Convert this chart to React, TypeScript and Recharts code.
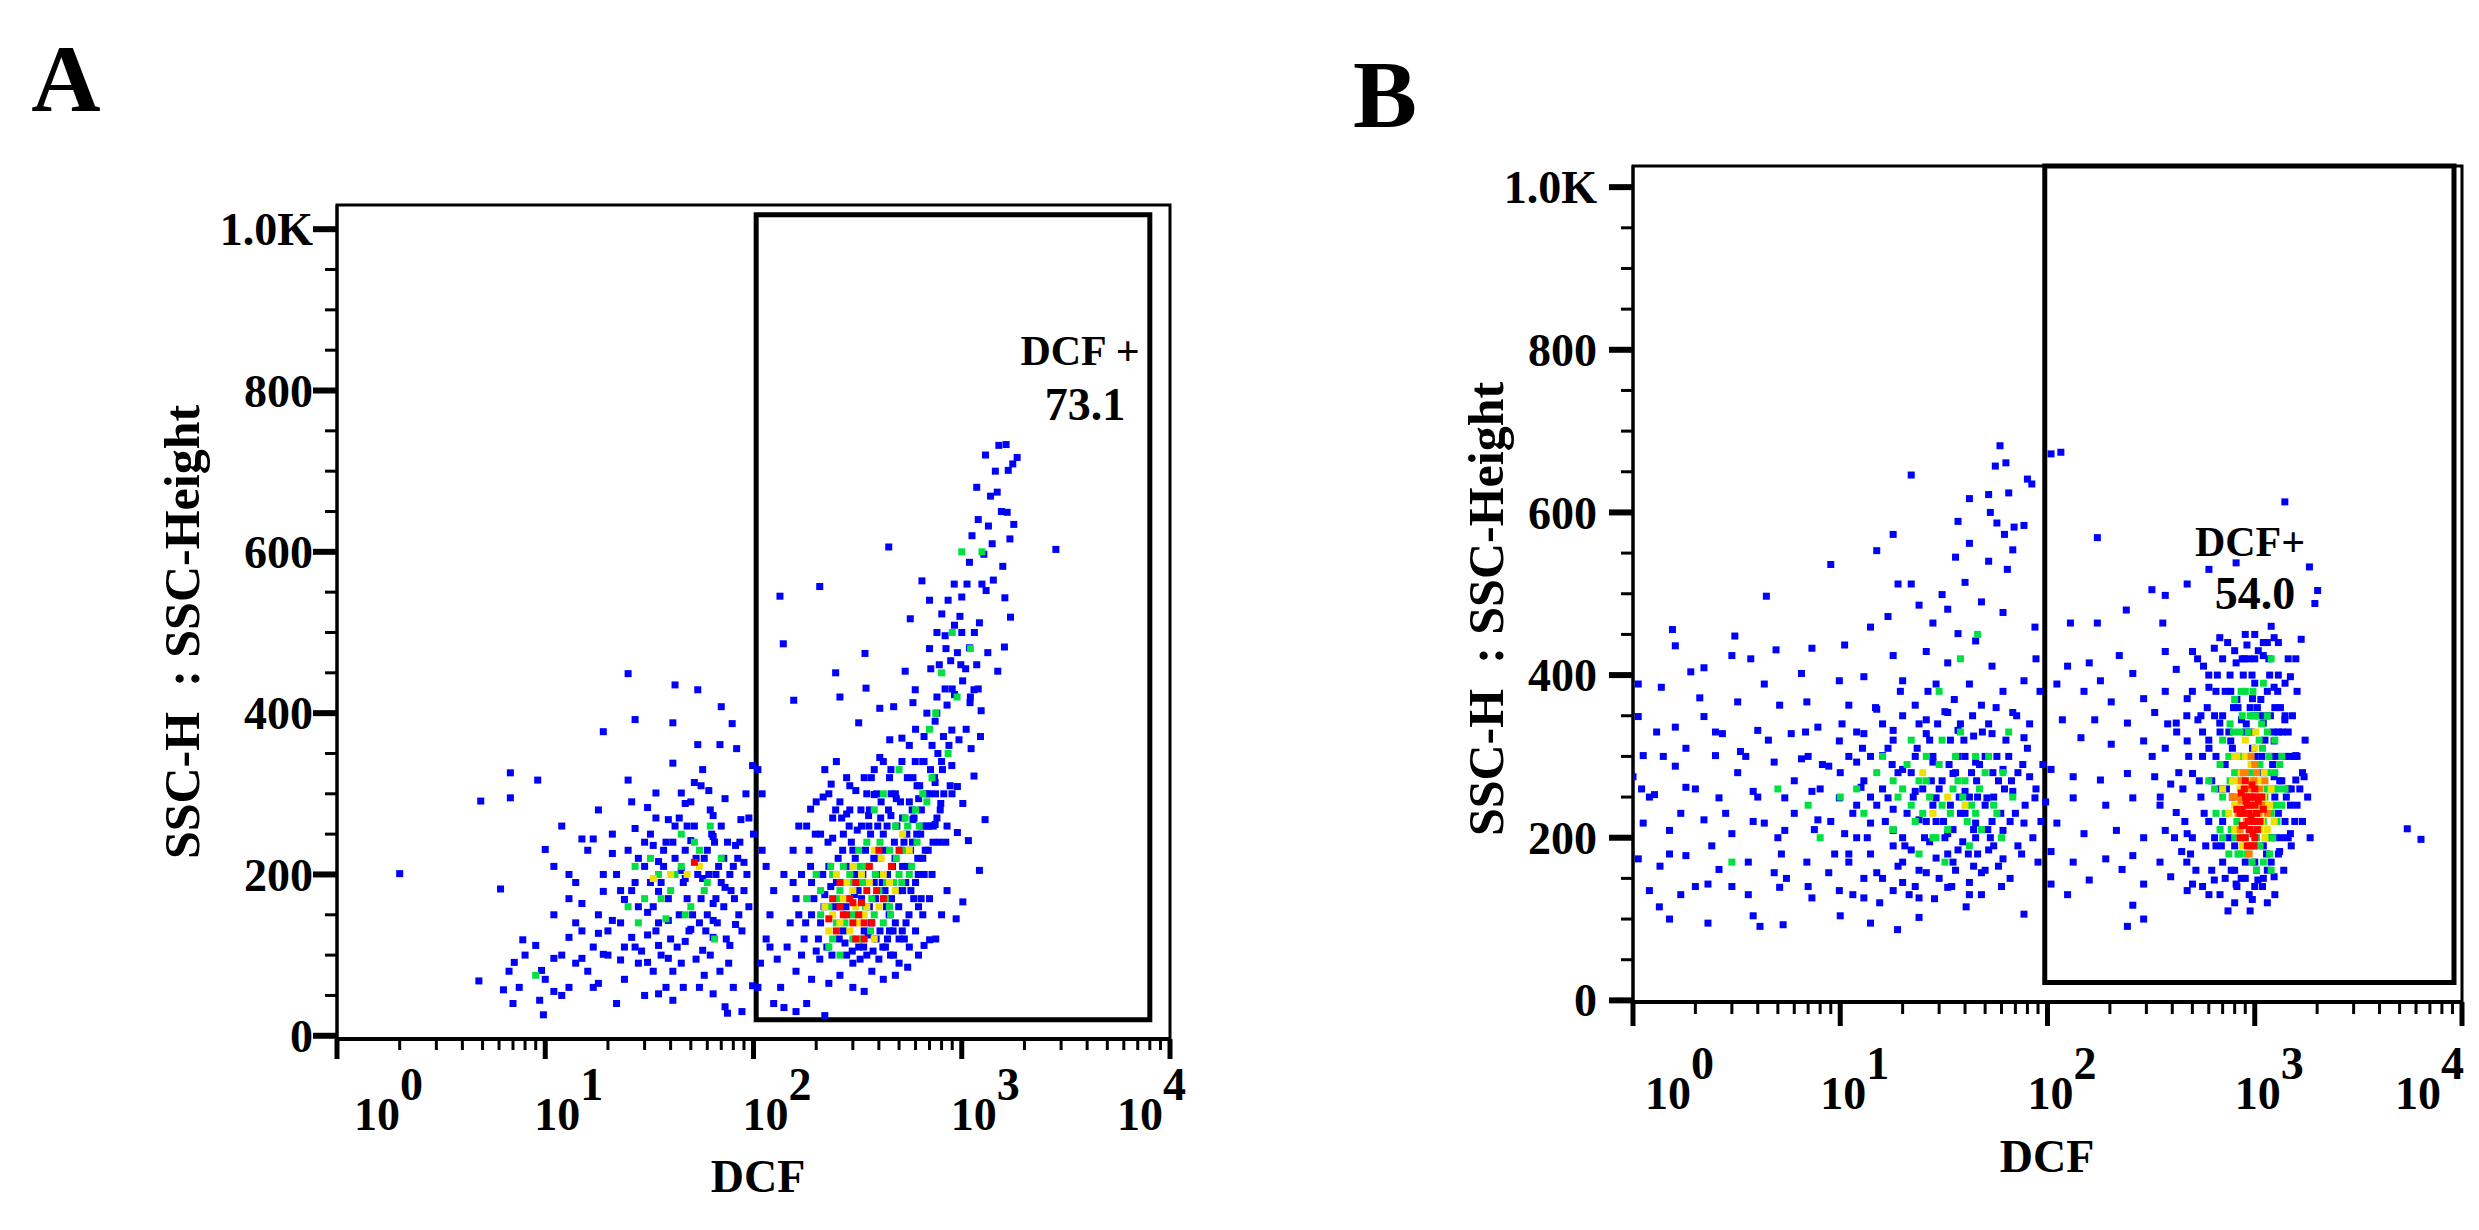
import { ScatterChart, Scatter, XAxis, YAxis, ReferenceArea } from 'recharts';

const FONT = '"Liberation Serif", "Times New Roman", serif';

const xTicks = [
  1, 2, 3, 4, 5, 6, 7, 8, 9,
  10, 20, 30, 40, 50, 60, 70, 80, 90,
  100, 200, 300, 400, 500, 600, 700, 800, 900,
  1000, 2000, 3000, 4000, 5000, 6000, 7000, 8000, 9000,
  10000,
];
const xMajor = [1, 10, 100, 1000, 10000];
const xExponents = ['0', '1', '2', '3', '4'];
const yTicks = [0, 50, 100, 150, 200, 250, 300, 350, 400, 450, 500, 550, 600, 650, 700, 750, 800, 850, 900, 950, 1000];
const yLabels: Record<number, string> = { 0: '0', 200: '200', 400: '400', 600: '600', 800: '800', 1000: '1.0K' };

// ---- panel A: [DCF, SSC-H] ----
const aBlue = [
  [1507, 732], [1633, 733], [1845, 717], [1758, 709], [1672, 701], [1480, 674], [1375, 669], [1652, 649], [1343, 632], [1778, 634],
  [1703, 616], [446, 606], [2831, 603], [1089, 587], [1277, 597], [1574, 582], [644, 564], [1418, 565], [1309, 552], [1000, 544],
  [1611, 543], [566, 517], [802, 523], [923, 509], [1216, 512], [1714, 519], [832, 496], [953, 475], [1089, 481], [1334, 475],
  [1603, 482], [343, 474], [885, 465], [1044, 455], [710, 455], [535, 452], [1489, 452], [347, 431], [598, 429], [832, 430],
  [923, 423], [1145, 429], [1096, 413], [1239, 403], [759, 400], [896, 379], [745, 390], [583, 413], [471, 408], [248, 450],
  [156, 416], [134, 545], [208, 557], [139, 486], [320, 388], [260, 420], [404, 406],
  [700, 540], [760, 500], [1150, 500], [980, 520], [1250, 560], [900, 430], [1010, 440], [1180, 460], [700, 480], [860, 540],
  [1400, 610], [1550, 650], [1200, 640], [1450, 700],
  [451, 367], [516, 369], [659, 371], [817, 371], [970, 367], [1230, 371], [1109, 356], [404, 345], [516, 340], [659, 340],
  [896, 335], [1145, 322], [368, 320], [457, 330], [583, 320], [745, 314], [953, 309], [310, 304], [380, 299], [485, 294],
  [621, 294], [793, 288], [1012, 288], [1294, 268], [236, 312], [216, 296], [188, 281], [280, 275], [357, 273], [457, 273],
  [583, 268], [745, 262], [953, 252], [1076, 242], [1216, 205], [1012, 166], [940, 145], [701, 119], [659, 112],
  [170, 200], [185, 230], [160, 170], [150, 140], [175, 120], [200, 105], [210, 140], [220, 175], [230, 210], [240, 245],
  [250, 190], [260, 160], [270, 130], [280, 100], [300, 90], [320, 110], [340, 130], [360, 160], [380, 190], [400, 220],
  [420, 250], [440, 200], [460, 170], [480, 140], [500, 120], [520, 180], [550, 210], [580, 240], [600, 190], [620, 160],
  [650, 220], [300, 230], [330, 260], [360, 280], [390, 300], [270, 250], [240, 270], [210, 250], [190, 190], [165, 150],
  [145, 110], [130, 95], [120, 150], [140, 200], [155, 230], [180, 260], [200, 290], [230, 300], [260, 290], [290, 280],
  [310, 200], [330, 170], [350, 100], [370, 80], [400, 95], [430, 110], [450, 130], [470, 100], [500, 90], [540, 140],
  [560, 110], [600, 130], [650, 150], [700, 170], [720, 200], [680, 260], [700, 300], [640, 280], [610, 310], [560, 290],
  [520, 270], [480, 300], [450, 320], [420, 340], [380, 330], [340, 320], [280, 320], [250, 340], [220, 330], [115, 120],
  [125, 180], [110, 230], [108, 90], [135, 60], [160, 80], [190, 70], [230, 65], [260, 75], [300, 60], [340, 55],
  [420, 70], [480, 75], [550, 85], [620, 100], [750, 120], [800, 150], [850, 180], [780, 240], [760, 270], [820, 300],
  [120, 110], [125, 40], [140, 35], [160, 30], [105, 60], [95, 270], [100, 250], [105, 330], [110, 300], [90, 215],
  [115, 210], [180, 40], [220, 25], [88, 30], [75, 28],
  [190, 150], [205, 120], [215, 200], [225, 110], [245, 160], [255, 220], [265, 190], [275, 115], [285, 210], [295, 240],
  [305, 175], [315, 255], [325, 95], [335, 200], [345, 230], [355, 125], [365, 250], [375, 105], [385, 170], [395, 260],
  [405, 130], [415, 190], [425, 230], [435, 160], [445, 280], [455, 100], [465, 210], [475, 240], [490, 180], [510, 230],
  [530, 120], [545, 250], [570, 180], [590, 270], [615, 220], [635, 250], [660, 200], [690, 230], [730, 260], [740, 320],
  [800, 340], [850, 260], [880, 310], [170, 100], [195, 170], [235, 185], [265, 270], [290, 310], [350, 300], [410, 290],
  [440, 120], [520, 210],
  [155, 190], [165, 260], [178, 140], [188, 210], [198, 250], [208, 95], [218, 160], [228, 240], [238, 100], [248, 280],
  [258, 120], [268, 230], [278, 160], [288, 260], [298, 105], [308, 220], [318, 180], [328, 280], [338, 110], [348, 190],
  [358, 260], [368, 140], [378, 220], [388, 120], [398, 200], [408, 270], [418, 110], [428, 180], [438, 260], [448, 150],
  [458, 300], [468, 130], [478, 220], [488, 260], [498, 160], [508, 290], [518, 130], [528, 240], [538, 190], [548, 320],
  [558, 150], [568, 230], [578, 280], [588, 170], [598, 340], [608, 250], [618, 200], [628, 310], [638, 170], [648, 260],
  [668, 230], [678, 300], [698, 260], [708, 330], [728, 240], [748, 300], [768, 350], [788, 280], [808, 330], [838, 240],
  [868, 360], [898, 300], [720, 360], [650, 340], [560, 360], [600, 380], [680, 400], [760, 420], [850, 410], [780, 460],
  [840, 480], [920, 560], [1000, 500], [1060, 560], [1120, 620], [1180, 680], [1300, 720], [1100, 420], [1050, 380], [1200, 430],
  [990, 460],
  // negative population
  [25, 449], [42, 435], [54, 429], [27, 392], [41, 388], [70, 408], [79, 387], [19, 377], [54, 361], [69, 361],
  [83, 356], [41, 338], [57, 330], [25, 317], [52, 314], [99, 335], [6.8, 326], [9.2, 317], [4.9, 291], [6.8, 295],
  [34, 301], [45, 301], [61, 304], [73, 294], [87, 268], [31, 283], [47, 288], [64, 273], [39, 268], [27, 257],
  [50, 242], [64, 247], [82, 236], [33, 236], [15, 244], [17, 244], [10, 231], [13, 200], [21, 226], [35, 216],
  [45, 205], [57, 195], [73, 184], [93, 200], [27, 190], [35, 179], [47, 195], [64, 164], [24, 169], [19, 179],
  [15, 164], [31, 153], [39, 143], [50, 132], [64, 143], [82, 138], [21, 143], [18, 127], [26, 122], [35, 112],
  [47, 117], [64, 122], [13, 122], [9, 112], [7.1, 91], [9.6, 81], [11, 96], [15, 96], [19, 101], [23, 94],
  [31, 91], [39, 96], [57, 106], [77, 112], [7.8, 119], [4.8, 68], [6.3, 57], [7.5, 60], [11, 55], [13, 60],
  [18, 65], [9.4, 44], [35, 52], [46, 60], [64, 52], [80, 60], [41, 44], [9.8, 26], [73, 36], [2.0, 201],
  [6.1, 182], [99, 62], [6.7, 80],
  [28, 220], [32, 250], [37, 230], [42, 260], [47, 230], [52, 260], [58, 220], [63, 250], [68, 210], [75, 240],
  [34, 130], [40, 120], [44, 150], [49, 130], [55, 140], [60, 150], [66, 170], [72, 160], [78, 180], [85, 150],
  [90, 180], [22, 200], [18, 150], [15, 130], [13, 170], [12, 100], [16, 80], [20, 100], [24, 70], [29, 105],
  [30, 210], [36, 190], [42, 220], [48, 170], [54, 200], [60, 230], [66, 200], [72, 220], [26, 180], [33, 160],
  [38, 240], [44, 270], [50, 290], [56, 310], [62, 280], [70, 260], [80, 210], [86, 240], [92, 300], [20, 130],
  [24, 110], [28, 90], [17, 110], [14, 140], [11, 150], [31, 125], [36, 100], [41, 80], [53, 95], [58, 75],
  [10, 70], [8, 100], [12, 50], [7, 40],
  [11, 210], [12, 260], [14, 190], [16, 230], [18, 280], [19, 200], [21, 250], [23, 180], [25, 230], [26, 290],
  [28, 160], [30, 240], [32, 190], [34, 270], [35, 140], [37, 210], [39, 170], [41, 240], [43, 110], [46, 190],
  [48, 260], [51, 150], [53, 220], [56, 170], [59, 130], [61, 200], [65, 240], [67, 140], [70, 190], [74, 120],
  [77, 200], [81, 170], [84, 220], [88, 130], [95, 160], [23, 140], [27, 110], [33, 80], [38, 60], [45, 90],
  [55, 60], [62, 100], [69, 80], [76, 90], [17, 60], [14, 90], [22, 40], [30, 50],
];
const aGreen = [
  [200, 200], [230, 160], [250, 140], [280, 170], [300, 150], [320, 190], [350, 210], [380, 150], [400, 180], [420, 140],
  [450, 230], [480, 260], [500, 200], [330, 120], [270, 210], [260, 100], [350, 240], [300, 120], [550, 260], [420, 300],
  [380, 280], [240, 120], [210, 150], [600, 280], [500, 330], [700, 380], [450, 160],
  [260, 180], [290, 200], [340, 190], [370, 170], [430, 170], [470, 190], [520, 230], [560, 200], [610, 240], [650, 300],
  [750, 400], [800, 450], [900, 500], [1000, 600], [320, 230], [240, 200],
  [210, 180], [235, 210], [255, 170], [275, 140], [295, 190], [325, 210], [345, 160], [365, 130], [385, 200], [405, 240],
  [435, 190], [455, 150], [485, 220], [515, 190], [535, 270], [575, 210], [625, 260], [680, 290], [720, 320], [860, 350],
  [950, 420], [1100, 480], [1250, 600], [230, 110], [180, 170],
  [35, 200], [45, 210], [40, 180], [55, 230], [30, 170], [50, 160], [60, 190], [45, 250], [25, 160], [38, 145],
  [65, 120], [9, 75], [28, 140], [32, 220], [42, 200], [52, 240], [36, 170], [58, 180], [47, 150], [27, 210],
  [62, 260], [70, 220],
];
const aYellow = [
  [260, 140], [290, 130], [310, 160], [340, 150], [360, 190], [400, 160], [280, 190], [230, 130], [420, 200], [380, 230],
  [320, 140], [270, 170], [300, 180], [350, 160], [240, 150], [220, 160], [250, 200], [330, 200], [410, 220], [450, 190],
  [480, 180], [380, 120], [300, 210], [520, 250], [560, 230], [48, 200], [33, 195], [40, 200], [55, 210],
];
const aRed = [
  [270, 150], [300, 140], [330, 165], [290, 170], [350, 180], [250, 130], [310, 120], [400, 230], [370, 140], [52, 215],
  [280, 150], [320, 150], [260, 160], [300, 165], [340, 140], [230, 145], [360, 210], [420, 170], [460, 210], [260, 190],
  [390, 180], [500, 230], [340, 120], [240, 170], [310, 190],
];

// ---- panel B: [DCF, SSC-H] ----
const bBlue = [
  [59, 682], [56, 657], [63, 661], [22, 646], [80, 641], [84, 635], [42, 617], [52, 622], [65, 624], [18, 573],
  [53, 600], [57, 587], [69, 582], [77, 584], [62, 573], [37, 589], [15, 553], [42, 562], [68, 554], [9.0, 536],
  [36, 545], [52, 540], [64, 530], [19, 512], [22, 512], [40, 514], [31, 499], [24, 486], [33, 481], [48, 490],
  [61, 477], [4.4, 497], [14, 459], [17, 472], [28, 464], [37, 451], [45, 442], [87, 459], [1.55, 456], [3.1, 448],
  [4.9, 431], [1.6, 436], [7.3, 433], [10.5, 437], [18, 424], [26, 429], [33, 415], [54, 411], [1.9, 404], [2.2, 409],
  [3.0, 424], [3.7, 420], [1.06, 389], [1.37, 385], [4.3, 389], [6.5, 402], [9.9, 393], [13, 398], [20, 393], [29, 389],
  [42, 389], [61, 380], [77, 393], [2.1, 372], [3.2, 367], [5.1, 363], [6.9, 367], [11, 363], [15, 358], [23, 363],
  [33, 354], [48, 363], [68, 354], [1.06, 349], [1.6, 336], [2.2, 349], [2.7, 328], [4.0, 332], [5.8, 328], [7.8, 336],
  [9.9, 319], [13, 328], [18, 332], [26, 328], [37, 332], [54, 328], [77, 323], [1.12, 301], [1.6, 288], [2.5, 301],
  [3.3, 306], [4.8, 293], [6.5, 297], [8.8, 288], [12, 293], [16, 301], [20, 284], [28, 293], [35, 279], [45, 293],
  [61, 284], [82, 275], [1.0, 275], [1.27, 253], [1.8, 262], [2.6, 249], [3.8, 257], [5.4, 249], [7.3, 257], [9.9, 249],
  [12.6, 262], [17, 249], [23, 257], [29, 249], [40, 257], [51, 249], [68, 257], [87, 249], [1.12, 218], [1.5, 209],
  [2.2, 222], [3.0, 205], [4.3, 218], [5.4, 209], [7.8, 222], [10.5, 205], [14, 218], [18, 209], [24, 222], [33, 205],
  [45, 218], [61, 209], [77, 218], [1.06, 174], [1.35, 165], [1.8, 178], [2.6, 161], [3.6, 170], [4.8, 157], [6.9, 170],
  [8.8, 157], [11, 170], [15, 157], [20, 170], [26, 157], [35, 170], [48, 157], [61, 174], [1.2, 135], [1.7, 130],
  [2.3, 143], [3.6, 130], [5.1, 139], [7.3, 126], [9.9, 135], [13, 126], [18, 135], [24, 126], [33, 139], [42, 130],
  [1.34, 115], [2.3, 95], [3.8, 104], [5.3, 93], [10, 104], [14, 95], [18.9, 87], [24, 102], [77, 106], [1.5, 100],
  [4.1, 91],
  [11, 300], [13, 270], [15, 240], [17, 310], [19, 280], [21, 230], [23, 300], [25, 260], [27, 320], [29, 220],
  [31, 270], [34, 240], [37, 300], [40, 230], [43, 280], [46, 250], [50, 300], [54, 220], [58, 270], [12, 200],
  [14, 180], [16, 150], [18, 190], [20, 145], [22, 185], [24, 160], [27, 195], [30, 150], [33, 180], [36, 160],
  [39, 195], [42, 145], [46, 180], [50, 160], [55, 190], [60, 140], [12, 330], [16, 340], [20, 350], [26, 345],
  [32, 355], [38, 340], [44, 325], [52, 340], [14, 250], [18, 235], [28, 240], [35, 210], [45, 200], [55, 250],
  [65, 300], [70, 230], [75, 180], [80, 310],
  [10, 280], [12, 240], [14, 300], [16, 260], [18, 320], [20, 200], [22, 280], [24, 340], [26, 220], [28, 300],
  [30, 260], [32, 200], [34, 320], [36, 280], [38, 230], [40, 300], [42, 250], [44, 210], [47, 290], [50, 240],
  [53, 200], [57, 300], [62, 260], [66, 220], [72, 280], [78, 240], [85, 200], [9, 220], [8, 260], [7, 300],
  [6, 230], [5, 200], [4, 250], [3.5, 300], [2.8, 230], [2.4, 190], [2, 260], [1.7, 230], [1.4, 300], [1.2, 250],
  [11, 180], [13, 150], [19, 165], [23, 140], [29, 175], [37, 185], [44, 165], [52, 185], [58, 165], [66, 150],
  [72, 190], [90, 170], [95, 290], [92, 380], [88, 420],
  [3.2, 280], [3.8, 220], [4.5, 320], [5.2, 180], [6, 270], [6.8, 330], [7.5, 210], [8.2, 290], [9.4, 180], [10.2, 340],
  [11.5, 230], [12.8, 310], [13.5, 200], [14.8, 360], [16.5, 220], [17.8, 290], [19.5, 380], [20.5, 190], [22.5, 250], [23.5, 310],
  [25.5, 200], [26.5, 380], [27.5, 270], [29.5, 340], [31.5, 220], [33.5, 290], [35.5, 370], [37.5, 250], [39.5, 320], [41.5, 180],
  [43.5, 350], [45.5, 270], [48.5, 330], [51.5, 210], [54.5, 280], [56.5, 360], [59.5, 230], [63, 320], [67, 270], [71, 350],
  [76, 290], [82, 340], [88, 260], [93, 220], [11.5, 130], [15.5, 120], [21.5, 130], [28.5, 125], [34.5, 140], [40.5, 115],
  [48, 130], [5.5, 150], [7, 140], [3, 140], [2.5, 330], [1.8, 310], [1.3, 330], [1.1, 260], [1.5, 180], [2, 140],
  // positive population
  [104, 672], [116, 674], [174, 569], [319, 505], [370, 498], [472, 512], [601, 530], [813, 538], [1397, 613], [1836, 533],
  [2011, 504], [1950, 488], [240, 480], [129, 464], [174, 464], [360, 464], [678, 446], [1675, 444], [1240, 446], [917, 437],
  [638, 433], [501, 429], [370, 429], [222, 424], [159, 415], [125, 411], [180, 393], [258, 402], [418, 407], [566, 411],
  [813, 415], [1099, 424], [1578, 420], [111, 389], [150, 380], [203, 367], [291, 371], [370, 380], [472, 371], [601, 385],
  [766, 380], [975, 371], [1240, 385], [1486, 398], [118, 345], [169, 345], [243, 341], [329, 354], [418, 341], [532, 345],
  [678, 341], [863, 345], [1099, 341], [1397, 345], [145, 323], [203, 315], [291, 319], [370, 310], [472, 319], [601, 310],
  [766, 319], [975, 310], [1240, 319], [1578, 301], [104, 284], [133, 275], [180, 271], [243, 279], [329, 275], [393, 266],
  [501, 279], [1240, 275], [1578, 271], [1730, 275], [98, 244], [133, 249], [191, 240], [258, 249], [349, 240], [418, 231],
  [1486, 240], [5445, 211], [6340, 198], [111, 218], [150, 205], [215, 209], [291, 200], [370, 209], [472, 205], [1486, 205],
  [104, 183], [133, 170], [191, 174], [258, 178], [349, 170], [444, 183], [1318, 183], [159, 148], [229, 161], [291, 143],
  [393, 152], [501, 143], [638, 148], [813, 143], [1035, 148], [1240, 152], [258, 117], [291, 100], [243, 91], [743, 110],
  [973, 124], [601, 130], [472, 135], [125, 130], [104, 143],
  [500, 380], [550, 350], [600, 320], [650, 300], [700, 350], [750, 330], [800, 300], [850, 280], [900, 330], [950, 360],
  [1000, 300], [1100, 280], [1200, 300], [1300, 330], [1400, 300], [1500, 260], [550, 250], [600, 220], [650, 190], [700, 170],
  [750, 200], [800, 160], [900, 150], [1000, 170], [1100, 190], [1200, 200], [1300, 230], [1400, 220], [1500, 190], [1600, 240],
  [500, 200], [450, 260], [480, 300], [520, 160], [560, 300], [620, 270], [680, 260], [720, 290], [780, 250], [820, 370],
  [880, 400], [940, 420], [1000, 390], [1050, 350], [1150, 380], [1250, 360], [1350, 270], [1450, 330], [1700, 280], [420, 330],
  [460, 220], [600, 400], [700, 420], [800, 430], [900, 450], [1150, 440], [1250, 250], [1350, 200], [1600, 300], [1800, 250],
  [560, 330], [640, 350], [720, 380], [780, 310], [830, 360], [870, 420], [960, 330], [1030, 360], [1080, 300], [1130, 350],
  [1180, 400], [1230, 330], [1280, 300], [1330, 360], [1400, 350], [1450, 260], [1550, 300], [1300, 180], [1200, 170], [1100, 150],
  [1000, 140], [900, 170], [800, 190], [700, 220], [640, 200], [580, 190], [720, 150], [820, 140], [1150, 160], [1450, 200],
  [650, 380], [760, 400], [1000, 420], [1100, 440], [1300, 400], [1400, 390],
  [320, 300], [350, 250], [380, 340], [410, 200], [430, 280], [470, 350], [490, 180], [530, 420], [540, 270], [570, 230],
  [590, 360], [620, 160], [660, 400], [680, 330], [690, 190], [730, 260], [740, 440], [770, 160], [790, 360], [840, 300],
  [860, 150], [890, 420], [910, 340], [940, 130], [970, 400], [990, 350], [1020, 160], [1040, 430], [1070, 370], [1090, 140],
  [1120, 320], [1140, 180], [1170, 420], [1190, 350], [1220, 290], [1260, 200], [1290, 380], [1320, 270], [1360, 330], [1420, 250],
  [1480, 300], [1520, 350], [1560, 220], [1650, 260], [1750, 320], [1850, 200], [1380, 160], [1250, 130], [1150, 120], [950, 110],
  [800, 120], [680, 130], [560, 140], [470, 170], [1600, 380], [1700, 220], [1450, 420], [1300, 440], [1200, 460], [1000, 450],
];
const bGreen = [
  [20, 260], [25, 230], [30, 290], [35, 260], [28, 200], [40, 270], [22, 320], [45, 230], [32, 170], [18, 210],
  [50, 280], [38, 330], [27, 250], [15, 280], [24, 180], [42, 190], [55, 240], [5, 260], [8, 200], [3, 170],
  [30, 380], [38, 420], [46, 450], [21, 290], [26, 270], [31, 240], [36, 300], [41, 220], [47, 260], [23, 220],
  [33, 210], [19, 250], [60, 200], [12, 260], [65, 330],
  [13, 230], [16, 300], [24, 270], [29, 200], [34, 230], [37, 270], [43, 240], [48, 210], [52, 300], [57, 230],
  [61, 280], [68, 250], [18, 270], [22, 240], [26, 300], [31, 320], [39, 250], [45, 300], [10, 250], [7, 240],
  [700, 250], [750, 300], [800, 280], [850, 330], [900, 250], [950, 300], [1000, 270], [1050, 240], [1100, 220], [1150, 260],
  [1200, 230], [1250, 280], [700, 200], [750, 180], [800, 200], [850, 180], [900, 200], [1000, 190], [1100, 170], [1200, 160],
  [650, 230], [600, 270], [1300, 260], [950, 350], [1050, 320], [900, 380], [800, 370], [700, 320], [1150, 330], [1350, 300],
  [1100, 390], [1200, 420], [760, 270], [860, 300], [960, 280], [1060, 290], [1160, 280], [1260, 240], [820, 220], [920, 180],
  [1020, 200], [1120, 250], [1220, 200], [1080, 340], [980, 380],
  [640, 260], [680, 290], [720, 230], [770, 210], [790, 330], [830, 180], [870, 350], [930, 330], [970, 170], [1010, 350],
  [1060, 190], [1090, 310], [1130, 200], [1170, 300], [1230, 260], [1280, 220], [1320, 290], [1400, 260], [1250, 320], [1150, 350],
  [860, 380], [760, 340], [680, 210], [1020, 160], [1180, 180], [1350, 240],
];
const bYellow = [
  [28, 230], [33, 250], [40, 240], [25, 280],
  [850, 260], [900, 230], [950, 270], [1000, 240], [800, 240], [750, 230], [1050, 270], [1100, 250],
  [900, 300], [1000, 310], [850, 200], [950, 210], [1150, 210], [800, 300], [700, 260], [1200, 260],
  [880, 250], [920, 270], [980, 230], [1030, 250], [1080, 220], [830, 270], [960, 290],
  [780, 270], [820, 300], [860, 280], [870, 190], [940, 300], [990, 290], [1060, 210], [1110, 280], [1140, 240], [1180, 240],
  [1240, 220], [1010, 330], [900, 320], [800, 210], [1120, 200],
];
const bOrange = [
  [1020, 280], [940, 260], [860, 245], [880, 280], [820, 250], [1050, 230], [850, 210], [1050, 250], [990, 270], [900, 280],
  [910, 220], [780, 250], [830, 230], [960, 300], [1080, 240], [1120, 270], [1000, 290], [860, 270], [940, 180], [1060, 260],
  [1150, 230],
];
const bRed = [
  [850, 230], [900, 250], [950, 240], [1000, 220], [900, 200], [950, 190], [1000, 260], [930, 220], [870, 215], [980, 205],
  [880, 230], [920, 240], [960, 250], [1000, 240], [1030, 210], [920, 190], [970, 220], [890, 260], [1000, 200], [940, 210],
  [820, 235], [860, 255], [900, 270], [940, 230], [980, 250], [1020, 230], [1060, 220], [1080, 250], [850, 200], [890, 215],
  [930, 250], [970, 265], [1010, 250], [950, 210], [990, 190], [1040, 245], [910, 245], [870, 235], [960, 225], [1100, 235],
];

const toPts = (arr: number[][]) => arr.map(([x, y]) => ({ x, y }));

const dot = (color: string, size: number) => (props: any) => {
  const { cx, cy } = props;
  if (cx == null || cy == null) return <g />;
  return <rect x={cx - size / 2} y={cy - size / 2} width={size} height={size} fill={color} />;
};

function XTick(props: any) {
  const { x, y, payload, shifts, labelDy, tickLen } = props;
  const idx = xMajor.indexOf(payload.value);
  const major = idx >= 0;
  return (
    <g>
      <line x1={x} x2={x} y1={y} y2={y + (major ? tickLen[0] : tickLen[1])} stroke="#000" strokeWidth={major ? 5 : 3} />
      {major && (
        <text x={x + shifts[idx] - 23} y={y + labelDy} fontFamily={FONT} fontWeight="bold" fontSize={46} fill="#000">
          10<tspan dy={-30}>{xExponents[idx]}</tspan>
        </text>
      )}
    </g>
  );
}

function YTick(props: any) {
  const { x, y, payload, gap } = props;
  const v = payload.value;
  const label = yLabels[v];
  return (
    <g>
      <line x1={x} x2={x - (label ? 24 : 12)} y1={y} y2={y} stroke="#000" strokeWidth={label ? 6 : 3} />
      {label && (
        <text x={x - gap} y={y} dy="0.35em" textAnchor="end" fontFamily={FONT} fontWeight="bold" fontSize={46} fill="#000">
          {label}
        </text>
      )}
    </g>
  );
}

const AXIS_W = 80;

function Panel(p: any) {
  const { left, width, plot, yDomain, gate, shifts, labelDy, tickLen, yGap, series } = p;
  const margin = {
    top: plot.top,
    left: plot.left - AXIS_W,
    right: width - plot.right,
    bottom: 1230 - plot.bottom - AXIS_W,
  };
  return (
    <div style={{ position: 'absolute', left, top: 0 }}>
      <ScatterChart width={width} height={1230} margin={margin}>
        <XAxis
          type="number"
          dataKey="x"
          scale="log"
          domain={[1, 10000]}
          ticks={xTicks}
          interval={0}
          height={AXIS_W}
          tickSize={0}
          tickMargin={0}
          allowDataOverflow
          axisLine={{ stroke: '#000', strokeWidth: 4 }}
          tickLine={false}
          tick={(t: any) => <XTick {...t} shifts={shifts} labelDy={labelDy} tickLen={tickLen} />}
        />
        <YAxis
          type="number"
          dataKey="y"
          domain={yDomain}
          ticks={yTicks}
          interval={0}
          width={AXIS_W}
          tickSize={0}
          tickMargin={0}
          allowDataOverflow
          axisLine={{ stroke: '#000', strokeWidth: 3 }}
          tickLine={false}
          tick={(t: any) => <YTick {...t} gap={yGap} />}
        />
        <ReferenceArea x1={1} x2={10000} y1={yDomain[0]} y2={yDomain[1]} fill="none" stroke="#000" strokeWidth={3} ifOverflow="visible" />
        {series.map((s: any) => (
          <Scatter key={s.name} name={s.name} data={toPts(s.data)} shape={dot(s.color, 7)} isAnimationActive={false} />
        ))}
        <ReferenceArea x1={gate[0]} x2={gate[1]} y1={gate[2]} y2={gate[3]} fill="none" stroke="#000" strokeWidth={5} ifOverflow="visible" />
      </ScatterChart>
    </div>
  );
}

const textStyle = (x: number, y: number, size: number, extra: any = {}) => ({
  position: 'absolute' as const,
  left: x,
  top: y,
  transform: 'translate(-50%, -50%)' + (extra.rotate ? ' rotate(-90deg)' : ''),
  fontFamily: FONT,
  fontWeight: 'bold' as const,
  fontSize: size,
  lineHeight: 1,
  whiteSpace: 'nowrap' as const,
  color: '#000',
});

export default function App() {
  const seriesA = [
    { name: 'a-blue', data: aBlue, color: '#0000ff' },
    { name: 'a-green', data: aGreen, color: '#00e040' },
    { name: 'a-yellow', data: aYellow, color: '#f0e000' },
    { name: 'a-red', data: aRed, color: '#ff0000' },
  ];
  const seriesB = [
    { name: 'b-blue', data: bBlue, color: '#0000ff' },
    { name: 'b-green', data: bGreen, color: '#00e040' },
    { name: 'b-yellow', data: bYellow, color: '#f0e000' },
    { name: 'b-orange', data: bOrange, color: '#ff8000' },
    { name: 'b-red', data: bRed, color: '#ff0000' },
  ];
  return (
    <div style={{ position: 'absolute', left: 0, top: 0, width: 2479, height: 1230, background: '#fff', overflow: 'hidden' }}>
      <Panel
        left={0}
        width={1240}
        plot={{ left: 337, right: 1170, top: 205, bottom: 1039 }}
        yDomain={[-4, 1030]}
        gate={[103, 8000, 20, 1018]}
        shifts={[40, 12, 12, 12, -30]}
        labelDy={91}
        tickLen={[20, 11]}
        yGap={24}
        series={seriesA}
      />
      <Panel
        left={1240}
        width={1239}
        plot={{ left: 393, right: 1222, top: 166, bottom: 1002 }}
        yDomain={[-2, 1026]}
        gate={[97, 9150, 22, 1026]}
        shifts={[35, 3, 3, 3, -44]}
        labelDy={107}
        tickLen={[24, 12]}
        yGap={36}
        series={seriesB}
      />
      <div style={textStyle(66, 79, 96)}>A</div>
      <div style={textStyle(1385, 95, 96)}>B</div>
      <div style={textStyle(182, 632, 50, { rotate: true })}>SSC-H&nbsp; : SSC-Height</div>
      <div style={textStyle(1486, 609, 50, { rotate: true })}>SSC-H&nbsp; : SSC-Height</div>
      <div style={textStyle(758, 1177, 46)}>DCF</div>
      <div style={textStyle(2047, 1157, 46)}>DCF</div>
      <div style={textStyle(1080, 351, 42)}>DCF +</div>
      <div style={textStyle(1085, 405, 46)}>73.1</div>
      <div style={textStyle(2250, 542, 42)}>DCF+</div>
      <div style={textStyle(2255, 594, 46)}>54.0</div>
    </div>
  );
}
